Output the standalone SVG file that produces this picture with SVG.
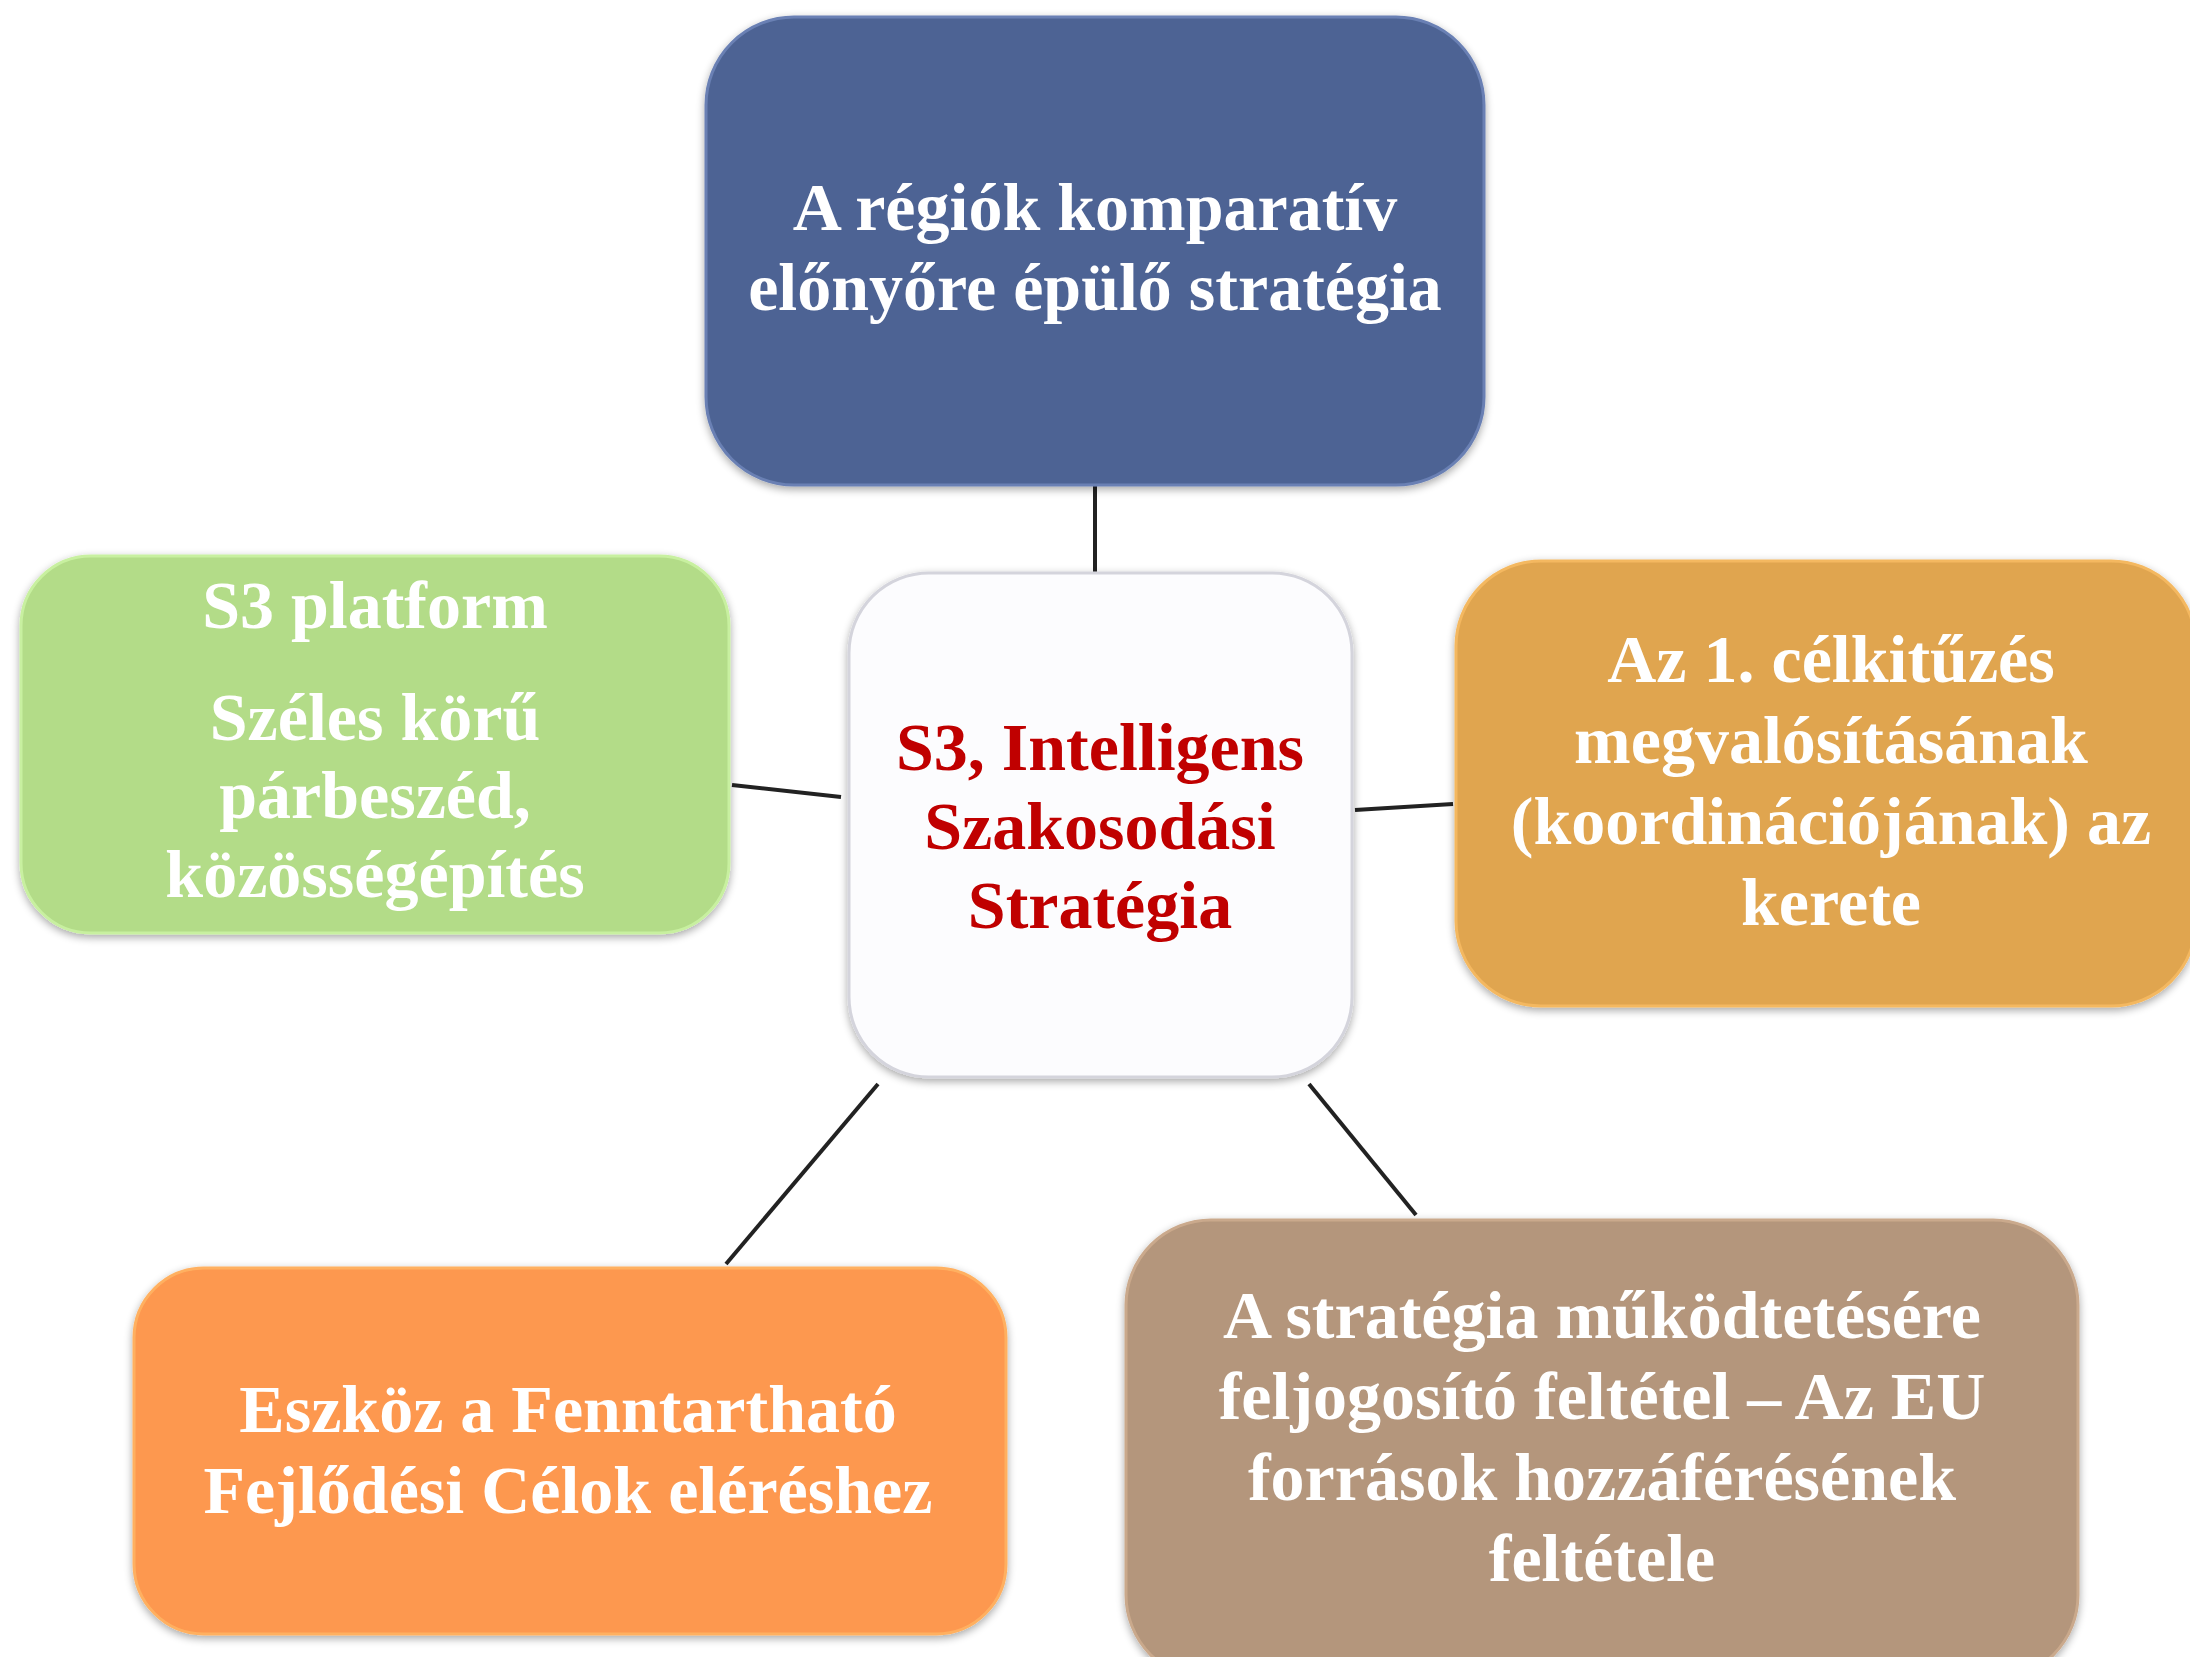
<svg xmlns="http://www.w3.org/2000/svg" width="2190" height="1657" viewBox="0 0 2190 1657">
  <style>
    .lbl { font-family: "Liberation Serif", "Times New Roman", serif; font-weight: bold; font-size: 68px; fill: #ffffff; text-anchor: middle; }
    .ctr { fill: #c00000; }
    .box { stroke-width: 3; filter: url(#sh); }
    .conn line { stroke: #222222; stroke-width: 4; }
  </style>
  <defs>
    <filter id="sh" x="-10%" y="-10%" width="120%" height="120%">
      <feGaussianBlur in="SourceAlpha" stdDeviation="4"/>
      <feOffset dx="0" dy="3" result="b"/>
      <feComponentTransfer><feFuncA type="linear" slope="0.35"/></feComponentTransfer>
      <feMerge><feMergeNode/><feMergeNode in="SourceGraphic"/></feMerge>
    </filter>
  </defs>
  <rect width="2190" height="1657" fill="#ffffff"/>

  <g class="conn" id="connectors">
    <line x1="1095" y1="486" x2="1095" y2="572"/>
    <line x1="732" y1="785" x2="841" y2="797"/>
    <line x1="1355" y1="810" x2="1453" y2="804"/>
    <line x1="878" y1="1084" x2="726" y2="1264"/>
    <line x1="1309" y1="1084" x2="1416" y2="1215"/>
  </g>

  <g id="node-top">
    <rect class="box" x="706" y="17" width="778" height="468" rx="88" fill="#4e6494" stroke="#6a80b4"/>
    <text class="lbl" x="1095" y="230">A régiók komparatív</text>
    <text class="lbl" x="1095" y="310">előnyőre épülő stratégia</text>
  </g>

  <g id="node-center">
    <rect class="box" x="849" y="573" width="503" height="504" rx="80" fill="#fcfcfe" stroke="#d4d4dc"/>
    <text class="lbl ctr" x="1100" y="770">S3, Intelligens</text>
    <text class="lbl ctr" x="1100" y="849">Szakosodási</text>
    <text class="lbl ctr" x="1100" y="928">Stratégia</text>
  </g>

  <g id="node-left">
    <rect class="box" x="21" y="556" width="708" height="377" rx="70" fill="#b3dc88" stroke="#c8f0a0"/>
    <text class="lbl" x="375" y="628">S3 platform</text>
    <text class="lbl" x="375" y="740">Széles körű</text>
    <text class="lbl" x="375" y="818">párbeszéd,</text>
    <text class="lbl" x="375" y="897">közösségépítés</text>
  </g>

  <g id="node-right">
    <rect class="box" x="1456" y="561" width="740" height="445" rx="85" fill="#e0a550" stroke="#f4b860"/>
    <text class="lbl" x="1831" y="682">Az 1. célkitűzés</text>
    <text class="lbl" x="1831" y="763">megvalósításának</text>
    <text class="lbl" x="1831" y="844">(koordinációjának) az</text>
    <text class="lbl" x="1831" y="925">kerete</text>
  </g>

  <g id="node-bottom-left">
    <rect class="box" x="134" y="1268" width="872" height="366" rx="70" fill="#fd9850" stroke="#ffb060"/>
    <text class="lbl" x="568" y="1432">Eszköz a Fenntartható</text>
    <text class="lbl" x="568" y="1513">Fejlődési Célok eléréshez</text>
  </g>

  <g id="node-bottom-right">
    <rect class="box" x="1126" y="1220" width="952" height="460" rx="85" fill="#b4967b" stroke="#caa98c"/>
    <text class="lbl" x="1602" y="1338">A stratégia működtetésére</text>
    <text class="lbl" x="1602" y="1419">feljogosító feltétel – Az EU</text>
    <text class="lbl" x="1602" y="1500">források hozzáférésének</text>
    <text class="lbl" x="1602" y="1581">feltétele</text>
  </g>
</svg>
